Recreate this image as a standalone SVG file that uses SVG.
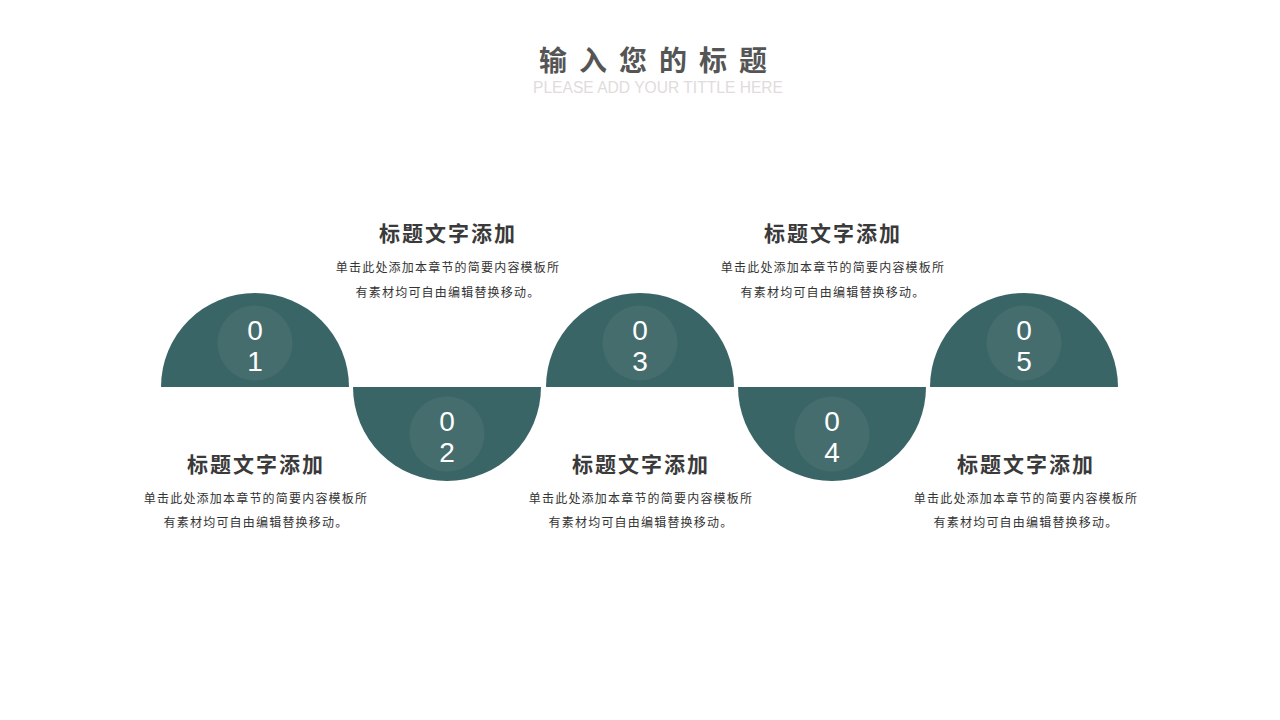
<svg xmlns="http://www.w3.org/2000/svg" width="1280" height="720" viewBox="0 0 1280 720">
<style>
.semi{fill:#3a6566}
.inner{fill:#466d6d}
.num{font-family:"Liberation Sans","Noto Sans",sans-serif;font-size:28px;fill:#ffffff;text-anchor:middle}
.head{font-family:"Noto Sans CJK SC",serif;font-weight:bold;font-size:21px;fill:#3a3a3a;text-anchor:middle;letter-spacing:2px}
.desc{font-family:"Noto Sans CJK SC",serif;font-size:12px;fill:#333333;text-anchor:middle;letter-spacing:1.2px}
</style>
<rect width="1280" height="720" fill="#ffffff"/>
<g id="title">
<text x="659" y="71" font-family="Noto Sans CJK SC,sans-serif" font-weight="bold" font-size="28" fill="#555555" text-anchor="middle" letter-spacing="12">输入您的标题</text>
<text x="658" y="93" font-family="Liberation Sans,sans-serif" font-size="16" fill="#e0dcdc" text-anchor="middle" textLength="250" lengthAdjust="spacingAndGlyphs">PLEASE ADD YOUR TITTLE HERE</text>
</g>
<g id="node1">
<path class="semi" d="M161,387 A94,94 0 0 1 349,387 Z"/>
<circle class="inner" cx="255" cy="343" r="37.5"/>
<text class="num" x="255" y="340">0</text>
<text class="num" x="255" y="371">1</text>
<text class="head" x="256" y="472">标题文字添加</text>
<text class="desc" x="256" y="503">单击此处添加本章节的简要内容模板所</text>
<text class="desc" x="256" y="527">有素材均可自由编辑替换移动。</text>
</g>
<g id="node2">
<path class="semi" d="M353,387 A94,94 0 0 0 541,387 Z"/>
<circle class="inner" cx="447" cy="434" r="37.5"/>
<text class="num" x="447" y="431">0</text>
<text class="num" x="447" y="462">2</text>
<text class="head" x="448" y="241">标题文字添加</text>
<text class="desc" x="448" y="272">单击此处添加本章节的简要内容模板所</text>
<text class="desc" x="448" y="297">有素材均可自由编辑替换移动。</text>
</g>
<g id="node3">
<path class="semi" d="M546,387 A94,94 0 0 1 734,387 Z"/>
<circle class="inner" cx="640" cy="343" r="37.5"/>
<text class="num" x="640" y="340">0</text>
<text class="num" x="640" y="371">3</text>
<text class="head" x="641" y="472">标题文字添加</text>
<text class="desc" x="641" y="503">单击此处添加本章节的简要内容模板所</text>
<text class="desc" x="641" y="527">有素材均可自由编辑替换移动。</text>
</g>
<g id="node4">
<path class="semi" d="M738,387 A94,94 0 0 0 926,387 Z"/>
<circle class="inner" cx="832" cy="434" r="37.5"/>
<text class="num" x="832" y="431">0</text>
<text class="num" x="832" y="462">4</text>
<text class="head" x="833" y="241">标题文字添加</text>
<text class="desc" x="833" y="272">单击此处添加本章节的简要内容模板所</text>
<text class="desc" x="833" y="297">有素材均可自由编辑替换移动。</text>
</g>
<g id="node5">
<path class="semi" d="M930,387 A94,94 0 0 1 1118,387 Z"/>
<circle class="inner" cx="1024" cy="343" r="37.5"/>
<text class="num" x="1024" y="340">0</text>
<text class="num" x="1024" y="371">5</text>
<text class="head" x="1026" y="472">标题文字添加</text>
<text class="desc" x="1026" y="503">单击此处添加本章节的简要内容模板所</text>
<text class="desc" x="1026" y="527">有素材均可自由编辑替换移动。</text>
</g>
<g id="connectors"/>
</svg>
